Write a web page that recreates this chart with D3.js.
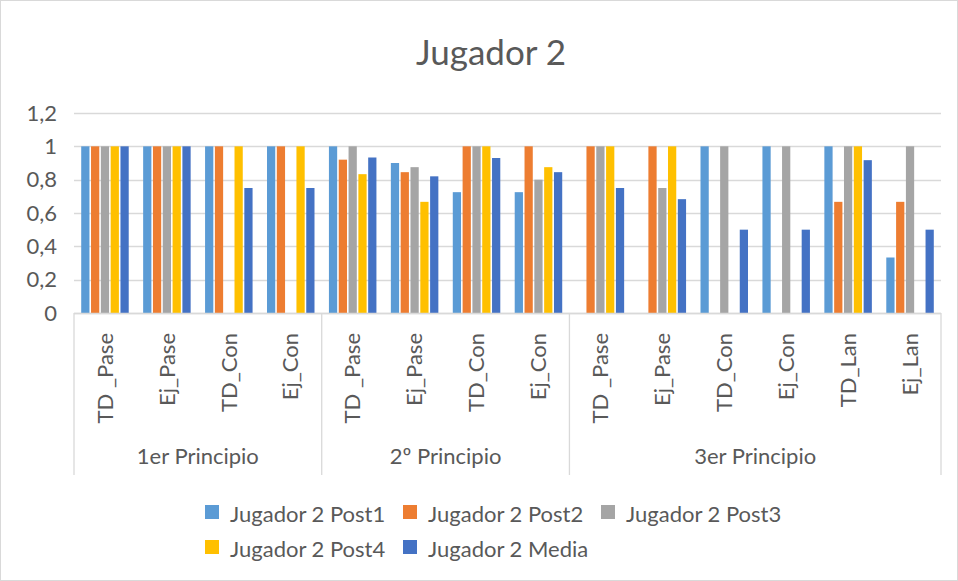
<!DOCTYPE html>
<html><head><meta charset="utf-8">
<script src="https://cdn.jsdelivr.net/npm/d3@7"></script>
<style>body{margin:0;background:#fff}svg{display:block}text{font-family:Lato,"Open Sans",sans-serif;fill:#595959}</style>
</head><body>
<svg id="c" width="958" height="581"></svg>
<script>
const categories = ["TD _Pase","Ej_Pase","TD_Con","Ej_Con","TD _Pase","Ej_Pase","TD_Con","Ej_Con","TD _Pase","Ej_Pase","TD_Con","Ej_Con","TD_Lan","Ej_Lan"];
const groups = [{name:"1er Principio", n:4},{name:"2º Principio", n:4},{name:"3er Principio", n:6}];
const seriesNames = ["Jugador 2 Post1","Jugador 2 Post2","Jugador 2 Post3","Jugador 2 Post4","Jugador 2 Media"];
const post1 = [1,1,1,1, 1,0.9,0.725,0.725, 0,0,1,1,1,0.333];
const post2 = [1,1,1,1, 0.92,0.845,1,1, 1,1,0,0,0.667,0.667];
const post3 = [1,1,0,0, 1,0.875,1,0.8, 1,0.75,1,1,1,1];
const post4 = [1,1,1,1, 0.833,0.667,1,0.875, 1,1,0,0,1,0];
const media = [1,1,0.75,0.75, 0.933,0.82,0.93,0.845, 0.75,0.683,0.5,0.5,0.917,0.5];
const yTicks = [0,0.2,0.4,0.6,0.8,1,1.2];
const colors = ["#5B9BD5","#ED7D31","#A5A5A5","#FFC000","#4472C4"];
const seriesValues = [post1,post2,post3,post4,media];

const svg = d3.select("#c");
svg.append("rect").attr("x",0.5).attr("y",0.5).attr("width",957).attr("height",580).attr("fill","#fff").attr("stroke","#D9D9D9");

const L=74, R=941, T=113, B=313;
const y = d3.scaleLinear().domain([0,1.2]).range([B,T]);
const x0 = d3.scaleBand().domain(d3.range(categories.length)).range([L,R]).padding(0);
const cw = x0.bandwidth();
const inner = 47.5;
const x1 = d3.scaleBand().domain(d3.range(seriesNames.length)).range([(cw-inner)/2,(cw+inner)/2]).paddingInner(0.16);

svg.append("text").attr("x",491).attr("y",65).attr("text-anchor","middle").attr("font-size",35).text("Jugador 2");

// gridlines
svg.append("g").selectAll("line").data(yTicks).join("line")
  .attr("x1",L).attr("x2",R).attr("y1",d=>Math.round(y(d))+0.5).attr("y2",d=>Math.round(y(d))+0.5)
  .attr("stroke","#D9D9D9").attr("stroke-width",1.3);
svg.append("g").selectAll("text").data(yTicks).join("text")
  .attr("x",57).attr("y",d=>y(d)).attr("dy","0.35em").attr("text-anchor","end").attr("font-size",22)
  .text(d=>d3.format(".1f")(d).replace(/\.0$/,"").replace(".",","));

// bars
seriesValues.forEach((vals,s)=>{
  svg.append("g").selectAll("rect").data(vals).join("rect")
    .attr("x",(d,i)=>x0(i)+x1(s)).attr("width",x1.bandwidth())
    .attr("y",d=>y(d)).attr("height",d=>B-y(d)).attr("fill",colors[s]);
});

// category axis
svg.append("line").attr("x1",L).attr("x2",R).attr("y1",B+0.5).attr("y2",B+0.5).attr("stroke","#D9D9D9").attr("stroke-width",1.3);
let idx=0; const bounds=[0];
groups.forEach(g=>{idx+=g.n; bounds.push(idx);});
svg.append("g").selectAll("line").data(bounds).join("line")
  .attr("x1",d=>d===categories.length?R:x0(d)).attr("x2",d=>d===categories.length?R:x0(d))
  .attr("y1",B).attr("y2",475).attr("stroke","#D9D9D9").attr("stroke-width",1.3);
svg.append("g").selectAll("text").data(categories).join("text")
  .attr("transform",(d,i)=>`translate(${x0(i)+cw/2},333) rotate(-90)`)
  .attr("dy","0.35em").attr("text-anchor","end").attr("font-size",22).text(d=>d);
svg.append("g").selectAll("text").data(groups).join("text")
  .attr("x",(g,i)=>{const a=bounds[i], b=bounds[i+1]; return (x0(a)+(b===categories.length?R:x0(b)))/2;})
  .attr("y",456).attr("dy","0.35em").attr("text-anchor","middle").attr("font-size",22).text(g=>g.name);

// legend
const legPos=[[205,514],[403,514],[601,514],[205,549],[403,549]];
const lg = svg.append("g").selectAll("g").data(seriesNames).join("g")
  .attr("transform",(d,i)=>`translate(${legPos[i][0]},${legPos[i][1]})`);
lg.append("rect").attr("x",0).attr("y",-9).attr("width",14).attr("height",14).attr("fill",(d,i)=>colors[i]);
lg.append("text").attr("x",25).attr("dy","0.35em").attr("font-size",22).text(d=>d);
</script>
</body></html>
